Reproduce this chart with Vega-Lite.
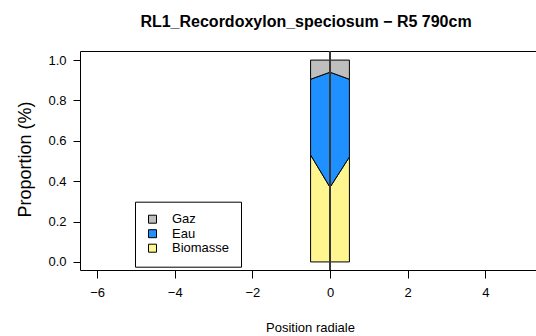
{
  "$schema": "https://vega.github.io/schema/vega-lite/v6.json",
  "width": 500,
  "height": 219,
  "autosize": {"type": "none"},
  "padding": {"left": 80, "top": 51, "right": 0, "bottom": 66},
  "background": "white",
  "title": {
    "text": "RL1_Recordoxylon_speciosum − R5 790cm",
    "font": "Liberation Sans",
    "fontSize": 16,
    "fontWeight": "bold",
    "color": "black",
    "anchor": "middle",
    "frame": "group",
    "dx": -24,
    "baseline": "alphabetic",
    "offset": 8
  },
  "config": {
    "view": {"stroke": "black", "strokeWidth": 1},
    "font": "Liberation Sans"
  },
  "data": {
    "values": [
      {"pos": -0.5, "comp": "Biomasse", "ord": 1, "prop": 0.53},
      {"pos": 0, "comp": "Biomasse", "ord": 1, "prop": 0.37},
      {"pos": 0.5, "comp": "Biomasse", "ord": 1, "prop": 0.52},
      {"pos": -0.5, "comp": "Eau", "ord": 2, "prop": 0.375},
      {"pos": 0, "comp": "Eau", "ord": 2, "prop": 0.57},
      {"pos": 0.5, "comp": "Eau", "ord": 2, "prop": 0.385},
      {"pos": -0.5, "comp": "Gaz", "ord": 3, "prop": 0.095},
      {"pos": 0, "comp": "Gaz", "ord": 3, "prop": 0.06},
      {"pos": 0.5, "comp": "Gaz", "ord": 3, "prop": 0.095}
    ]
  },
  "layer": [
    {
      "mark": {"type": "area", "stroke": "black", "strokeWidth": 1, "opacity": 1, "interpolate": "linear"},
      "encoding": {
        "x": {
          "field": "pos",
          "type": "quantitative",
          "scale": {"domain": [-6.44, 6.44], "nice": false, "zero": false},
          "axis": {
            "values": [-6, -4, -2, 0, 2, 4],
            "format": "d",
            "grid": false,
            "domain": false,
            "tickColor": "black",
            "tickSize": 8,
            "labelFont": "Liberation Sans",
            "labelFontSize": 13,
            "labelColor": "black",
            "labelPadding": 8,
            "labelFlush": false,
            "labelOverlap": false,
            "title": "Position radiale",
            "titleFont": "Liberation Sans",
            "titleFontSize": 13,
            "titleFontWeight": "normal",
            "titleColor": "black",
            "titleX": 230,
            "titleY": 61.5,
            "titleAlign": "center",
            "titleBaseline": "alphabetic"
          }
        },
        "y": {
          "field": "prop",
          "type": "quantitative",
          "stack": "zero",
          "scale": {"domain": [-0.04, 1.045], "nice": false, "zero": false},
          "axis": {
            "values": [0, 0.2, 0.4, 0.6, 0.8, 1.0],
            "format": ".1f",
            "grid": false,
            "domain": false,
            "tickColor": "black",
            "tickSize": 7,
            "labelFont": "Liberation Sans",
            "labelFontSize": 13,
            "labelColor": "black",
            "labelPadding": 7,
            "labelOverlap": false,
            "title": "Proportion (%)",
            "titleFont": "Liberation Sans",
            "titleFontSize": 18,
            "titleFontWeight": "normal",
            "titleColor": "black",
            "titleAngle": 270,
            "titleX": -50,
            "titleY": 108,
            "titleAlign": "center",
            "titleBaseline": "alphabetic"
          }
        },
        "color": {
          "field": "comp",
          "type": "nominal",
          "scale": {"domain": ["Gaz", "Eau", "Biomasse"], "range": ["#BEBEBE", "#1E90FF", "#FFF68F"]},
          "legend": {
            "orient": "none",
            "legendX": 55,
            "legendY": 150.7,
            "title": null,
            "strokeColor": "black",
            "fillColor": "white",
            "padding": 11,
            "symbolType": "square",
            "symbolSize": 64,
            "symbolStrokeColor": "black",
            "symbolStrokeWidth": 1,
            "symbolOpacity": 1,
            "labelFont": "Liberation Sans",
            "labelFontSize": 13,
            "labelColor": "black",
            "labelOffset": 13,
            "rowPadding": 0.5
          }
        },
        "order": {"field": "ord", "type": "quantitative"}
      }
    },
    {
      "mark": {"type": "rule", "color": "#383838", "strokeWidth": 1},
      "encoding": {"x": {"datum": 0}}
    }
  ]
}
